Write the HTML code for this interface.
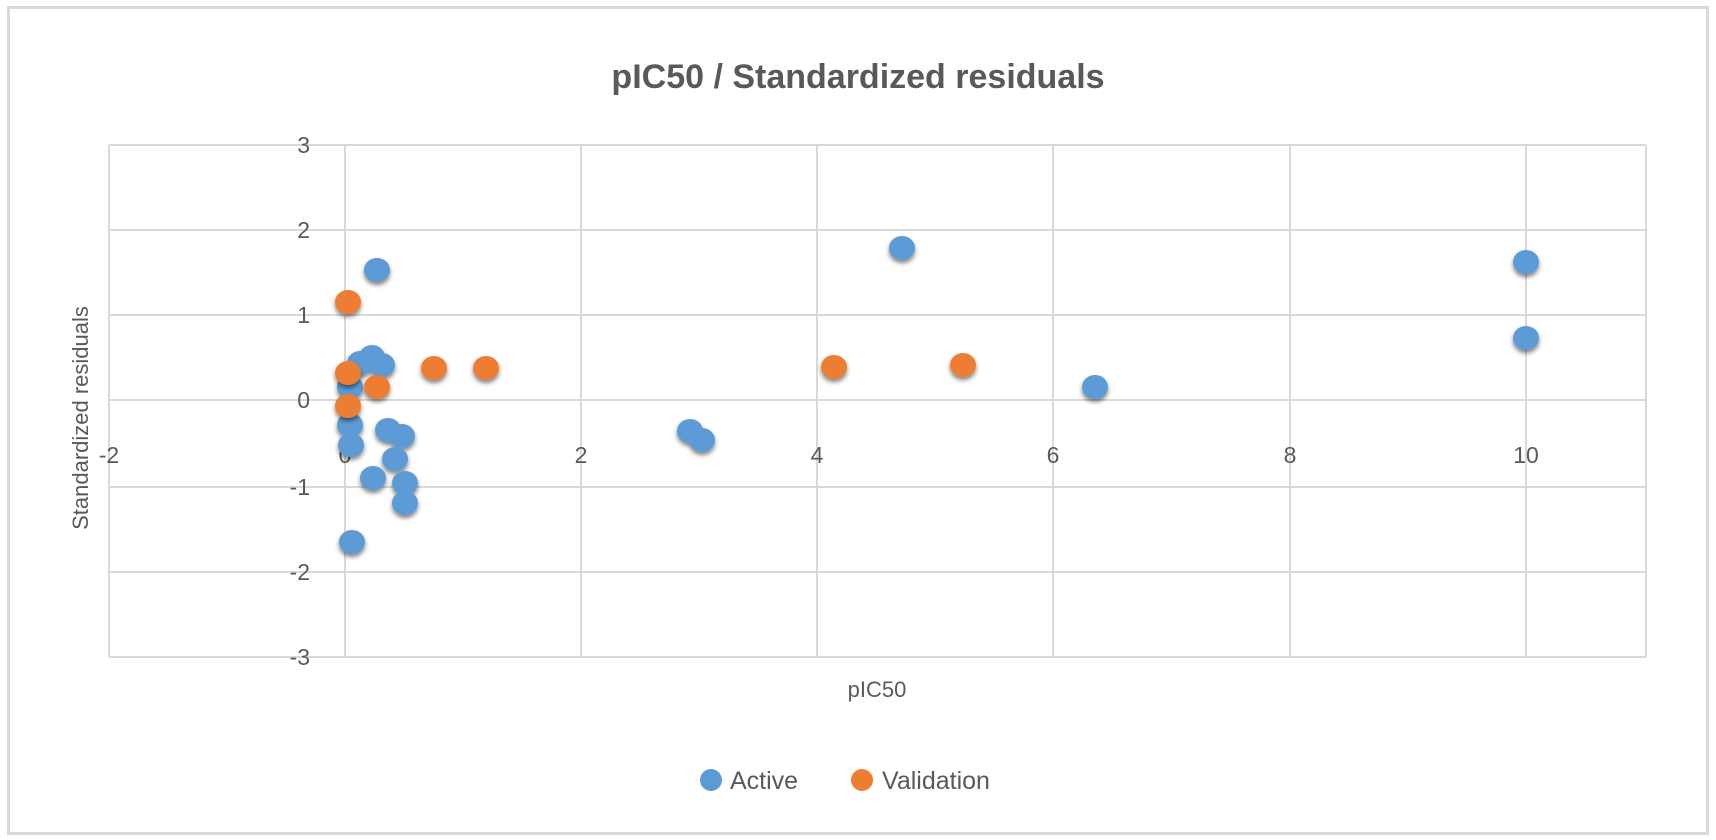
<!DOCTYPE html>
<html><head><meta charset="utf-8"><style>
body{margin:0;background:#fff;}
svg{display:block;font-family:"Liberation Sans",sans-serif;}
</style></head><body>
<svg width="1716" height="840" viewBox="0 0 1716 840" xmlns="http://www.w3.org/2000/svg">
<defs>
<filter id="sh" x="-50%" y="-50%" width="200%" height="200%">
<feGaussianBlur in="SourceAlpha" stdDeviation="2.5"/>
<feOffset dx="0" dy="3" result="b"/>
<feComponentTransfer><feFuncA type="linear" slope="0.5"/></feComponentTransfer>
<feMerge><feMergeNode/><feMergeNode in="SourceGraphic"/></feMerge>
</filter>
</defs>
<rect x="8.5" y="7.5" width="1699" height="826" fill="#fff" stroke="#d9d9d9" stroke-width="3"/>
<text x="858" y="88" text-anchor="middle" font-size="34" font-weight="bold" fill="#595959">pIC50 / Standardized residuals</text>
<g stroke="#d9d9d9" stroke-width="2" fill="none">
<line x1="109" y1="145" x2="1646" y2="145"/>
<line x1="109" y1="230" x2="1646" y2="230"/>
<line x1="109" y1="315" x2="1646" y2="315"/>
<line x1="109" y1="400" x2="1646" y2="400"/>
<line x1="109" y1="487" x2="1646" y2="487"/>
<line x1="109" y1="572" x2="1646" y2="572"/>
<line x1="109" y1="657" x2="1646" y2="657"/>
<line x1="109" y1="145" x2="109" y2="657"/>
<line x1="345" y1="145" x2="345" y2="657"/>
<line x1="581" y1="145" x2="581" y2="657"/>
<line x1="817" y1="145" x2="817" y2="657"/>
<line x1="1053" y1="145" x2="1053" y2="657"/>
<line x1="1290" y1="145" x2="1290" y2="657"/>
<line x1="1526" y1="145" x2="1526" y2="657"/>
<line x1="1646" y1="145" x2="1646" y2="657"/>
</g>
<g font-size="23" fill="#595959" text-anchor="end">
<text x="310" y="153">3</text>
<text x="310" y="238">2</text>
<text x="310" y="323">1</text>
<text x="310" y="408">0</text>
<text x="310" y="495">-1</text>
<text x="310" y="580">-2</text>
<text x="310" y="665">-3</text>
</g>
<g font-size="23" fill="#595959" text-anchor="middle">
<text x="109" y="463">-2</text>
<text x="345" y="463">0</text>
<text x="581" y="463">2</text>
<text x="817" y="463">4</text>
<text x="1053" y="463">6</text>
<text x="1290" y="463">8</text>
<text x="1526" y="463">10</text>
</g>
<text x="877" y="697" text-anchor="middle" font-size="22" fill="#595959">pIC50</text>
<text transform="translate(88,418) rotate(-90)" text-anchor="middle" font-size="22" fill="#595959">Standardized residuals</text>
<g filter="url(#sh)" fill="#5b9bd5">
<ellipse cx="352" cy="542" rx="13" ry="12"/>
<ellipse cx="405" cy="503" rx="13" ry="12"/>
<ellipse cx="405" cy="483" rx="13" ry="12"/>
<ellipse cx="373" cy="478" rx="13" ry="12"/>
<ellipse cx="395" cy="459" rx="13" ry="12"/>
<ellipse cx="351" cy="445" rx="13" ry="12"/>
<ellipse cx="388" cy="430" rx="13" ry="12"/>
<ellipse cx="402" cy="436" rx="13" ry="12"/>
<ellipse cx="350" cy="425" rx="13" ry="12"/>
<ellipse cx="350" cy="387" rx="13" ry="12"/>
<ellipse cx="360" cy="363" rx="13" ry="12"/>
<ellipse cx="372" cy="357" rx="13" ry="12"/>
<ellipse cx="382" cy="365" rx="13" ry="12"/>
<ellipse cx="377" cy="270" rx="13" ry="12"/>
<ellipse cx="690" cy="431" rx="13" ry="12"/>
<ellipse cx="702" cy="440" rx="13" ry="12"/>
<ellipse cx="902" cy="248" rx="13" ry="12"/>
<ellipse cx="1095" cy="387" rx="13" ry="12"/>
<ellipse cx="1526" cy="262" rx="13" ry="12"/>
<ellipse cx="1526" cy="338" rx="13" ry="12"/>
</g>
<g filter="url(#sh)" fill="#ed7d31">
<ellipse cx="348" cy="302" rx="13" ry="12"/>
<ellipse cx="348" cy="373" rx="13" ry="12"/>
<ellipse cx="377" cy="387" rx="13" ry="12"/>
<ellipse cx="348" cy="406" rx="13" ry="12"/>
<ellipse cx="434" cy="368" rx="13" ry="12"/>
<ellipse cx="486" cy="368" rx="13" ry="12"/>
<ellipse cx="834" cy="367" rx="13" ry="12"/>
<ellipse cx="963" cy="365" rx="13" ry="12"/>
</g>
<ellipse cx="711" cy="780" rx="11" ry="11" fill="#5b9bd5"/>
<text x="730" y="789" font-size="25" fill="#595959">Active</text>
<ellipse cx="862" cy="780" rx="11" ry="11" fill="#ed7d31"/>
<text x="882" y="789" font-size="25" fill="#595959">Validation</text>
</svg>
</body></html>
